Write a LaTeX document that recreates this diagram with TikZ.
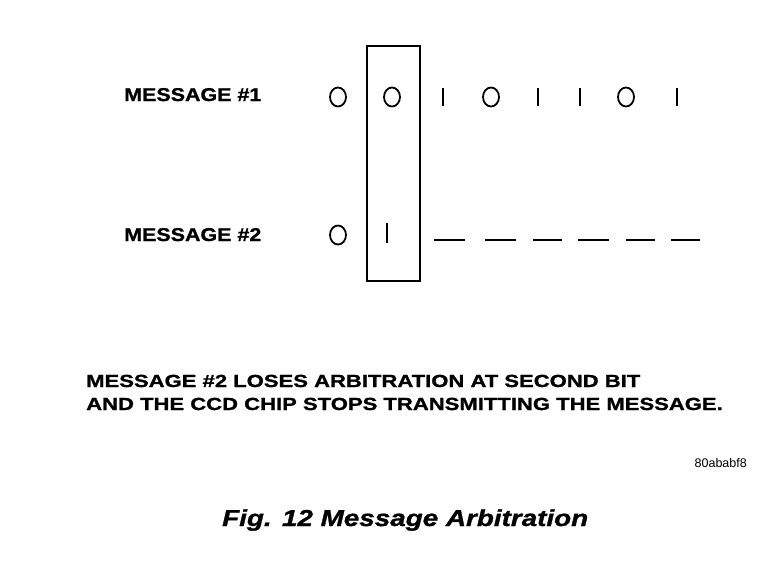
\documentclass[tikz,border=0pt]{standalone}
\usepackage{fontspec}
\setmainfont{Liberation Sans}
\newfontfamily\lblfont[FakeStretch=1.16,FakeBold=1.2]{Liberation Sans Bold}
\newfontfamily\notefont[FakeStretch=1.26,FakeBold=1.2]{Liberation Sans Bold}
\newfontfamily\capfont[FakeStretch=1.21,FakeBold=1.2]{Liberation Sans Bold Italic}
\usetikzlibrary{positioning}

\begin{document}
\begin{tikzpicture}[
    x=1pt,y=-1pt,
    lbl/.style={font=\lblfont\fontsize{18.5}{20}\selectfont,anchor=base west,inner sep=0pt},
    note/.style={font=\notefont\fontsize{17.5}{22}\selectfont,anchor=base west,inner sep=0pt},
    zero/.style={draw,line width=1.8pt,x radius=8,y radius=9.5},
    one/.style={line width=2pt},
    lost/.style={line width=1.8pt}
  ]
  \useasboundingbox (0,0) rectangle (768,570);

  % message labels
  \node[lbl] (m1) at (124,101) {MESSAGE \#1};
  \node[lbl] (m2) at (124,241) {MESSAGE \#2};

  % arbitration window
  \draw[line width=2pt] (367,46) rectangle (420,281);

  % message 1 bits: 0 0 1 0 1 1 0 1
  \draw[zero] (338,97) circle;
  \draw[zero] (392,97) circle;
  \draw[one] (443,88) -- (443,106);
  \draw[zero] (491,97) circle;
  \draw[one] (538,88) -- (538,106);
  \draw[one] (580,88) -- (580,106);
  \draw[zero] (626,97) circle;
  \draw[one] (677,88) -- (677,106);

  % message 2 bits: 0 1, then nothing sent
  \draw[zero] (338,235) circle;
  \draw[one] (387,223) -- (387,243);
  \draw[lost] (434,240) -- (465,240);
  \draw[lost] (485,240) -- (516,240);
  \draw[lost] (533,240) -- (562,240);
  \draw[lost] (578,240) -- (609,240);
  \draw[lost] (626,240) -- (655,240);
  \draw[lost] (671,240) -- (700,240);

  % explanation
  \node[note] (txt1) at (86,387) {MESSAGE \#2 LOSES ARBITRATION AT SECOND BIT};
  \node[note] (txt2) at (86,410) {AND THE CCD CHIP STOPS TRANSMITTING THE MESSAGE.};
  \node[font=\fontsize{12.5}{14}\selectfont,anchor=base east,inner sep=0pt] (ref) at (747,467) {80ababf8};

  % caption
  \node[font=\capfont\fontsize{23}{26}\selectfont,anchor=base west,inner sep=0pt] (cap) at (222,526)
       {Fig. 12 Message Arbitration};
\end{tikzpicture}
\end{document}
